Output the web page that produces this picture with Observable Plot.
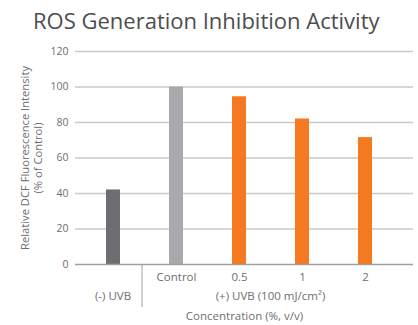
<!DOCTYPE html>
<html>
<head>
<meta charset="utf-8">
<script src="https://cdn.jsdelivr.net/npm/d3@7"></script>
<script src="https://cdn.jsdelivr.net/npm/@observablehq/plot@0.6"></script>
<style>
  html, body { margin: 0; padding: 0; background: #fff; }
  #wrap { position: relative; width: 418px; height: 325px; overflow: hidden; font-family: "Open Sans", sans-serif; }
  #title { position: absolute; left: 33px; top: 5px; text-align: left; font-size: 22px; color: #4d4d4f; white-space: nowrap; }
  #chart { position: absolute; left: 0; top: 0; }
</style>
</head>
<body>
<div id="wrap">
  <div id="chart"></div>
  <div id="title">ROS Generation Inhibition Activity</div>
</div>
<script>
const categories = ["(-) UVB", "Control", "0.5", "1", "2"];
const values = [42, 100, 94.5, 82, 71.5];
const colors = ["#6d6e71", "#a7a9ac", "#f47920", "#f47920", "#f47920"];
const tickLabels = ["", "Control", "0.5", "1", "2"];
const yTicks = [0, 20, 40, 60, 80, 100, 120];
const groupLabelMinus = "(-) UVB";
const groupLabelPlus = "(+) UVB (100 mJ/cm²)";
const xLabel = "Concentration (%, v/v)";
const yLabel = "Relative DCF Fluorescence Intensity\n(% of Control)";

const data = categories.map((c, i) => ({cat: c, value: values[i], color: colors[i], label: tickLabels[i]}));

const font = "Open Sans, sans-serif";
const textColor = "#6d6e71";

const plot = Plot.plot({
  width: 418,
  height: 325,
  marginTop: 51,
  marginBottom: 61,
  marginLeft: 75,
  marginRight: 5,
  style: {fontFamily: font, background: "#fff"},
  x: {domain: categories, range: [81.5, 396.5], paddingInner: 0.778, paddingOuter: 0.389, axis: null},
  y: {domain: [0, 120], axis: null},
  marks: [
    Plot.ruleY(yTicks.filter(d => d > 0), {stroke: "#c9c9c9", strokeWidth: 1.6}),
    Plot.barY(data, {x: "cat", y: "value", fill: "color"}),
    Plot.ruleY([0], {stroke: "#a0a0a0", strokeWidth: 1.6}),
    Plot.axisY(yTicks, {anchor: "left", tickSize: 0, tickPadding: 7, fontSize: 10.5, color: textColor, label: null}),
    Plot.text(data.filter(d => d.label), {x: "cat", text: "label", frameAnchor: "bottom", dy: 16, fontSize: 11.5, fill: textColor}),
    Plot.text([xLabel], {frameAnchor: "bottom", text: d => d, dy: 55, fontSize: 11.5, fill: textColor}),
    Plot.text([yLabel], {frameAnchor: "left", text: d => d, rotate: -90, dx: -44, textAnchor: "middle", fontSize: 11.2, fill: textColor, lineHeight: 1.1})
  ]
});

document.getElementById("chart").appendChild(plot);

// Group labels and separator positioned via the x scale
const xs = plot.scale("x");
const bw = xs.bandwidth;
const step = xs.step;
const cx = c => xs.apply(c) + bw / 2;
const svg = d3.select(plot);
const plusCenter = (cx(categories[1]) + cx(categories[categories.length - 1])) / 2;
const yPos = plot.scale("y");
const baseY = yPos.apply(0);
function addLabel(x, y, txt) {
  svg.append("text")
    .attr("x", x)
    .attr("y", y)
    .attr("dy", "0.32em")
    .attr("text-anchor", "middle")
    .attr("font-size", 11.5)
    .attr("fill", textColor)
    .attr("font-family", font)
    .text(txt);
}
addLabel(cx(categories[0]), baseY + 32, groupLabelMinus);
addLabel(plusCenter, baseY + 32, groupLabelPlus);
const sepX = xs.apply(categories[1]) - (step - bw) / 2 - 2.5;
svg.append("line")
  .attr("x1", sepX).attr("x2", sepX)
  .attr("y1", baseY).attr("y2", baseY + 43)
  .attr("stroke", "#a0a0a0").attr("stroke-width", 1);
</script>
</body>
</html>
